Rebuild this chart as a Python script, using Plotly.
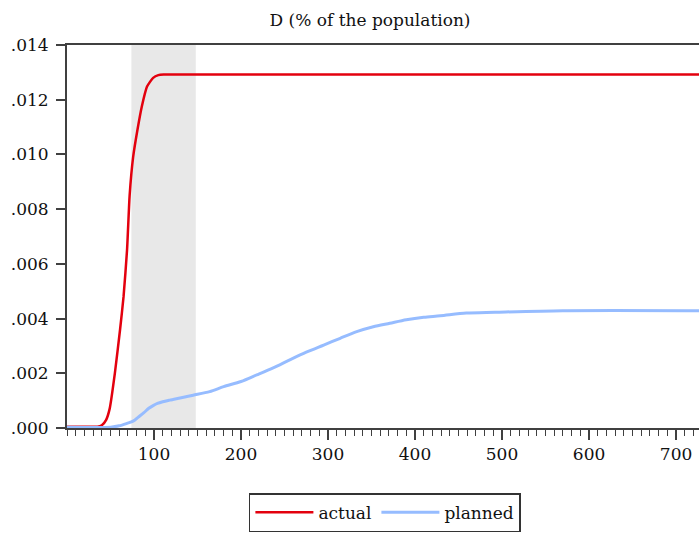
import plotly.graph_objects as go

# ---- data ----
actual_x = [0, 35, 40, 45, 49, 55, 61, 65, 69, 72, 76, 81, 86, 92, 99, 105, 111, 730]
actual_y = [0.00005, 0.00005, 0.0001, 0.0003, 0.0007, 0.0020, 0.0036, 0.0048, 0.0065, 0.0085,
            0.0099, 0.0109, 0.01175, 0.01248, 0.01280, 0.01290, 0.01292, 0.01292]

planned_x = [0, 50, 60, 69, 76, 82, 88, 94, 99, 104, 110, 118, 130, 145, 164, 180, 200, 218,
             237, 256, 275, 295, 314, 333, 352, 371, 390, 410, 429, 459, 492, 570, 730]
planned_y = [0.00003, 0.00003, 0.00008, 0.00017, 0.00025, 0.0004, 0.00055, 0.00072, 0.00082,
             0.0009, 0.00096, 0.00102, 0.0011, 0.0012, 0.00133, 0.00151, 0.0017, 0.00194,
             0.0022, 0.00249, 0.00277, 0.00303, 0.00328, 0.00352, 0.0037, 0.00383, 0.00396,
             0.00405, 0.0041, 0.0042, 0.00423, 0.00429, 0.00429]

shade_start, shade_end = 74, 148

x_tick_vals = [100, 200, 300, 400, 500, 600, 700]
y_tick_vals = [0.000, 0.002, 0.004, 0.006, 0.008, 0.010, 0.012, 0.014]
y_tick_text = [".000", ".002", ".004", ".006", ".008", ".010", ".012", ".014"]

title_text = "D (% of the population)"

# ---- figure ----
FONT = "DejaVu Serif"
AXIS = "#404040"

fig = go.Figure()
fig.add_trace(go.Scatter(x=actual_x, y=actual_y, mode="lines", name="actual",
                         line=dict(color="#E3000E", width=2.5, shape="spline", smoothing=0.5)))
fig.add_trace(go.Scatter(x=planned_x, y=planned_y, mode="lines", name="planned",
                         line=dict(color="#96BCFF", width=3, shape="spline", smoothing=0.8)))

fig.add_shape(type="rect", xref="x", yref="paper", x0=shade_start, x1=shade_end, y0=0, y1=1,
              fillcolor="#E8E8E8", line=dict(width=0), layer="below")

fig.update_layout(
    width=699, height=536,
    margin=dict(l=67, r=0, t=45, b=108),
    paper_bgcolor="white", plot_bgcolor="white",
    font=dict(family=FONT, size=17, color="#111111"),
    title=dict(text=title_text, x=370/699, xref="container", xanchor="center",
               y=1 - 20/536, yref="container", yanchor="middle",
               font=dict(family=FONT, size=17, color="#111111")),
    showlegend=True,
    legend=dict(orientation="h", x=0.503, xanchor="center", y=-0.17, yanchor="top",
                bordercolor="#333333", borderwidth=1.5, bgcolor="white",
                itemwidth=58, font=dict(family=FONT, size=17)),
    xaxis=dict(range=[0, 726.4], showgrid=False, zeroline=False,
               showline=True, linecolor=AXIS, linewidth=2, mirror=True,
               ticks="outside", ticklen=10, tickwidth=1.5, tickcolor=AXIS,
               tickvals=x_tick_vals,
               minor=dict(dtick=10, ticks="outside", ticklen=6, tickwidth=1.2,
                          tickcolor=AXIS, showgrid=False)),
    yaxis=dict(range=[0, 0.014], showgrid=False, zeroline=False,
               showline=True, linecolor=AXIS, linewidth=2,
               ticks="outside", ticklen=9, tickwidth=1.5, tickcolor=AXIS,
               tickvals=y_tick_vals, ticktext=y_tick_text, ticklabelstandoff=4),
)

fig.write_html("out.html")
